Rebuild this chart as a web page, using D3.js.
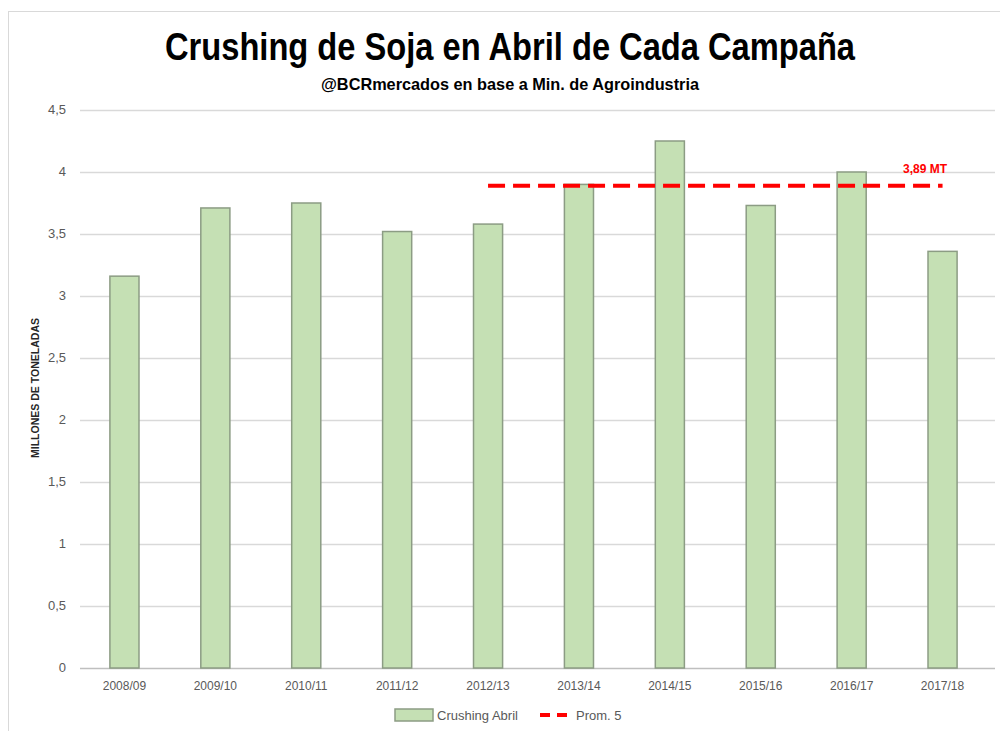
<!DOCTYPE html>
<html lang="es">
<head>
  <meta charset="UTF-8">
  <title>Crushing de Soja en Abril de Cada Campaña</title>
  <script src="https://d3js.org/d3.v7.min.js"></script>
  <style>
    body { margin: 0; background: #fff; }
    text { font-family: "Liberation Sans", Arial, sans-serif; }
  </style>
</head>
<body>
<div id="chart"></div>
<script>
  // data
  const campaigns = ["2008/09", "2009/10", "2010/11", "2011/12", "2012/13", "2013/14", "2014/15", "2015/16", "2016/17", "2017/18"];
  const crushing = [3.16, 3.71, 3.75, 3.52, 3.58, 3.90, 4.25, 3.73, 4.00, 3.36];
  const prom5 = [null, null, null, null, 3.89, 3.89, 3.89, 3.89, 3.89, 3.89];
  const yTicks = [0, 0.5, 1, 1.5, 2, 2.5, 3, 3.5, 4, 4.5];
  const promLabel = "3,89 MT";

  const W = 1000, H = 731;
  const svg = d3.select("#chart").append("svg")
    .attr("width", W).attr("height", H);

  // outer frame
  svg.append("rect")
    .attr("x", 8.5).attr("y", 11.5)
    .attr("width", 1010).attr("height", 740)
    .attr("fill", "none").attr("stroke", "#d9d9d9");

  // titles (condensed look via textLength)
  svg.append("text")
    .attr("x", 510).attr("y", 60)
    .attr("text-anchor", "middle")
    .attr("textLength", 690)
    .attr("lengthAdjust", "spacingAndGlyphs")
    .style("font-size", "38px").style("font-weight", "bold")
    .text("Crushing de Soja en Abril de Cada Campaña");

  svg.append("text")
    .attr("x", 510).attr("y", 90)
    .attr("text-anchor", "middle")
    .attr("textLength", 378)
    .attr("lengthAdjust", "spacingAndGlyphs")
    .style("font-size", "17px").style("font-weight", "bold")
    .text("@BCRmercados  en base a Min. de Agroindustria");

  // scales
  const x = d3.scaleBand()
    .domain(campaigns)
    .range([79, 988])
    .paddingInner(0.68)
    .paddingOuter(0.34);

  const y = d3.scaleLinear()
    .domain([0, 4.5])
    .range([668, 110]);

  // gridlines
  svg.append("g")
    .selectAll("line")
    .data(yTicks)
    .enter().append("line")
    .attr("x1", 80).attr("x2", 995)
    .attr("y1", d => Math.round(y(d)) + 0.5)
    .attr("y2", d => Math.round(y(d)) + 0.5)
    .attr("stroke", d => d === 0 ? "#bfbfbf" : "#d9d9d9")
    .attr("stroke-width", 1.5);

  // y axis labels
  const fmt = d => String(d).replace(".", ",");
  svg.append("g")
    .selectAll("text")
    .data(yTicks)
    .enter().append("text")
    .attr("x", 66)
    .attr("y", d => y(d) + 4)
    .attr("text-anchor", "end")
    .style("font-size", "13px")
    .style("fill", "#595959")
    .text(fmt);

  svg.append("text")
    .attr("transform", "translate(39,388) rotate(-90)")
    .attr("text-anchor", "middle")
    .attr("textLength", 140)
    .attr("lengthAdjust", "spacingAndGlyphs")
    .style("font-size", "10px").style("font-weight", "bold")
    .style("fill", "#262626")
    .text("MILLONES DE TONELADAS");

  // bars
  svg.append("g")
    .selectAll("rect")
    .data(crushing)
    .enter().append("rect")
    .attr("x", (d, i) => x(campaigns[i]))
    .attr("y", d => y(d))
    .attr("width", x.bandwidth())
    .attr("height", d => y(0) - y(d))
    .attr("fill", "#c5e0b4")
    .attr("stroke", "#8c9c84")
    .attr("stroke-width", 1.5);

  // x labels
  svg.append("g")
    .selectAll("text")
    .data(campaigns)
    .enter().append("text")
    .attr("x", d => x(d) + x.bandwidth() / 2)
    .attr("y", 690)
    .attr("text-anchor", "middle")
    .style("font-size", "12px")
    .style("fill", "#595959")
    .text(d => d);

  // Prom. 5 dashed line
  const line = d3.line()
    .defined(d => d.v !== null)
    .x(d => x(d.c) + x.bandwidth() / 2)
    .y(d => y(d.v));

  svg.append("path")
    .datum(campaigns.map((c, i) => ({ c: c, v: prom5[i] })))
    .attr("d", line)
    .attr("fill", "none")
    .attr("stroke", "#ff0000")
    .attr("stroke-width", 4)
    .attr("stroke-dasharray", "17,8");

  svg.append("text")
    .attr("x", 925).attr("y", 173)
    .attr("text-anchor", "middle")
    .style("font-size", "12px").style("font-weight", "bold")
    .style("fill", "#ff0000")
    .text(promLabel);

  // legend
  const lg = svg.append("g");
  lg.append("rect")
    .attr("x", 395).attr("y", 709)
    .attr("width", 38).attr("height", 12)
    .attr("fill", "#c5e0b4").attr("stroke", "#8c9c84").attr("stroke-width", 1.5);
  lg.append("text")
    .attr("x", 437).attr("y", 720)
    .style("font-size", "13px").style("fill", "#595959")
    .text("Crushing Abril");
  lg.append("line")
    .attr("x1", 540).attr("x2", 567)
    .attr("y1", 715).attr("y2", 715)
    .attr("stroke", "#ff0000").attr("stroke-width", 4)
    .attr("stroke-dasharray", "10,7");
  lg.append("text")
    .attr("x", 576).attr("y", 720)
    .style("font-size", "13px").style("fill", "#595959")
    .text("Prom. 5");
</script>
</body>
</html>
